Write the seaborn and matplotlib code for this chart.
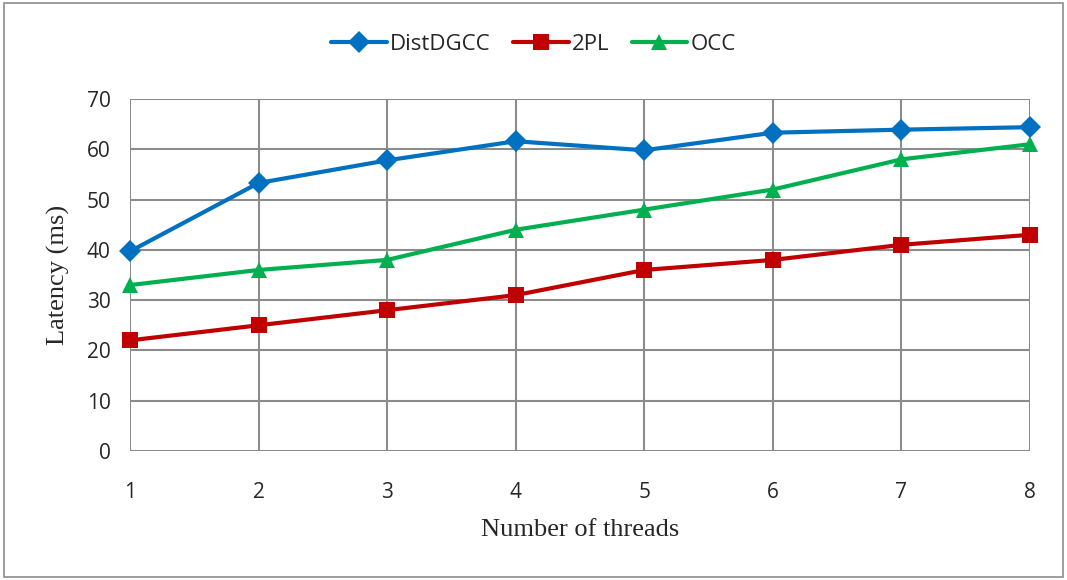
import numpy as np
import pandas as pd
import matplotlib
matplotlib.use("Agg")
import matplotlib.pyplot as plt
import seaborn as sns
from matplotlib.patches import Rectangle

threads = [1, 2, 3, 4, 5, 6, 7, 8]
distdgcc = [39.7, 53.3, 57.8, 61.6, 59.8, 63.3, 63.9, 64.4]
two_pl = [22, 25, 28, 31, 36, 38, 41, 43]
occ = [33, 36, 38, 44, 48, 52, 58, 61]

names = ["DistDGCC", "2PL", "OCC"]
colors = {"DistDGCC": "#0070C0", "2PL": "#C00000", "OCC": "#00B050"}
markers = {"DistDGCC": "D", "2PL": "s", "OCC": "^"}

df = pd.DataFrame({"threads": threads * 3,
                   "latency": distdgcc + two_pl + occ,
                   "method": sum([[n] * len(threads) for n in names], [])})

sns.set_style("white")
plt.rcParams["font.family"] = ["Open Sans", "DejaVu Sans"]

fig = plt.figure(figsize=(10.67, 5.8), dpi=100)
ax = fig.add_axes([130 / 1067, 1 - 451 / 580, 900 / 1067, 352 / 580])

sns.lineplot(data=df, x="threads", y="latency", hue="method", style="method",
             palette=colors, markers=markers, dashes=False, linewidth=3,
             markersize=11, markeredgewidth=0, ax=ax, legend=True)

ax.set_xlim(1, 8)
ax.set_ylim(0, 70)
ax.set_xticks(threads)
ax.set_yticks(range(0, 71, 10))
ax.grid(True, color="#8c8c8c", linewidth=1.5)
ax.set_axisbelow(True)
for s in ax.spines.values():
    s.set_visible(False)
for line in ax.lines:
    line.set_clip_on(False)
ax.tick_params(axis="both", length=0, labelsize=15)
ax.tick_params(axis="x", pad=22)
ax.tick_params(axis="y", pad=14)

ax.set_xlabel("Number of threads", family=["Liberation Serif"], fontsize=19, labelpad=12)
ax.set_ylabel("Latency (ms)", family=["Liberation Serif"], fontsize=19, labelpad=12)

h, l = ax.get_legend_handles_labels()
ax.legend(h, l, loc="center", bbox_to_anchor=(0.5, (580 - 44) / 580), bbox_transform=fig.transFigure,
          ncol=3, frameon=False, fontsize=16, handlelength=2.5, columnspacing=1.0, handletextpad=0.15)

fig.patches.append(Rectangle((0.004, 0.006), 0.992, 0.988, transform=fig.transFigure,
                             fill=False, edgecolor="#8c8c8c", linewidth=1.2))

fig.savefig("out.png", dpi=100)
